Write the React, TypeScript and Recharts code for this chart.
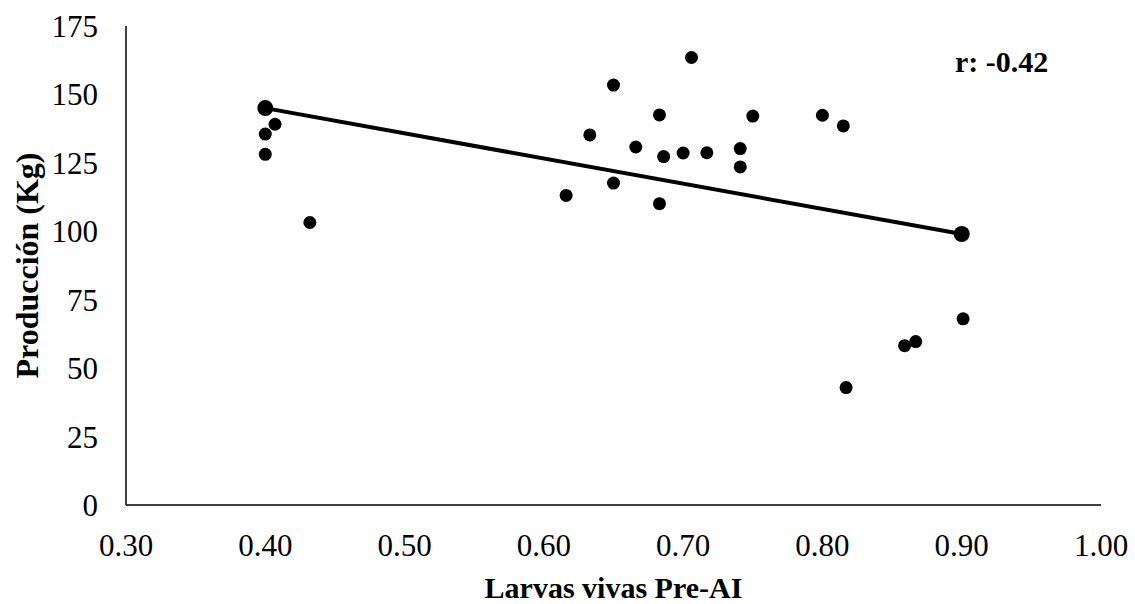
import { Label, Scatter, ScatterChart, XAxis, YAxis } from "recharts";

const larvas = [
  0.4, 0.407, 0.4, 0.4, 0.432, 0.616, 0.633, 0.65, 0.65, 0.666, 0.683, 0.683, 0.686,
  0.7, 0.706, 0.717, 0.741, 0.741, 0.75, 0.8, 0.815, 0.817, 0.859, 0.867, 0.901, 0.9,
];
const produccion = [
  145, 139.1, 135.5, 128.1, 103.2, 113.1, 135.2, 153.4, 117.6, 130.8, 142.5, 110.1, 127.3,
  128.6, 163.5, 128.7, 130.2, 123.5, 142.1, 142.4, 138.5, 42.9, 58.2, 59.7, 68.0, 99.2,
];
const trendX = [0.4, 0.9];
const trendY = [145, 99];
const xTicks = [0.3, 0.4, 0.5, 0.6, 0.7, 0.8, 0.9, 1.0];
const yTicks = [0, 25, 50, 75, 100, 125, 150, 175];

const points = larvas.map((x, i) => ({ x, y: produccion[i] }));
const trend = trendX.map((x, i) => ({ x, y: trendY[i] }));

const font = "'Liberation Serif', 'Times New Roman', serif";

const dot = (r: number) => (props: any) =>
  <circle cx={props.cx} cy={props.cy} r={r} fill="#000" />;

export default function App() {
  return (
    <div style={{ position: "absolute", left: 0, top: 0, width: 1135, height: 604, background: "#fff" }}>
      <ScatterChart
        width={1135}
        height={604}
        margin={{ top: 26, right: 34, bottom: 9, left: 10 }}
        style={{ fontFamily: font }}
      >
        <XAxis
          type="number"
          dataKey="x"
          domain={[0.3, 1.0]}
          ticks={xTicks}
          tickFormatter={(v: number) => v.toFixed(2)}
          height={90}
          tickLine={false}
          tickSize={0}
          tickMargin={29}
          axisLine={{ stroke: "#000", strokeWidth: 1.5 }}
          tick={{ fill: "#000", fontSize: 31, fontFamily: font }}
          allowDataOverflow
        >
          <Label
            value="Larvas vivas Pre-AI"
            position="insideBottom"
            offset={-3}
            style={{ fill: "#000", fontSize: 30, fontWeight: "bold", fontFamily: font }}
          />
        </XAxis>
        <YAxis
          type="number"
          dataKey="y"
          domain={[0, 175]}
          ticks={yTicks}
          width={116}
          tickLine={false}
          tickSize={0}
          tickMargin={28}
          axisLine={{ stroke: "#000", strokeWidth: 1.5 }}
          tick={{ fill: "#000", fontSize: 31, fontFamily: font }}
        >
          <Label
            value="Producción (Kg)"
            angle={-90}
            position="insideLeft"
            offset={17}
            style={{ fill: "#000", fontSize: 32, fontWeight: "bold", fontFamily: font, textAnchor: "middle" }}
          />
        </YAxis>
        <Scatter data={points} fill="#000" shape={dot(6.5)} isAnimationActive={false} />
        <Scatter
          data={trend}
          fill="#000"
          line={{ stroke: "#000", strokeWidth: 4 }}
          shape={dot(8)}
          isAnimationActive={false}
        />
      </ScatterChart>
      <div
        style={{
          position: "absolute",
          left: 955,
          top: 47,
          fontFamily: font,
          fontWeight: "bold",
          fontSize: 30,
          lineHeight: "30px",
          color: "#000",
          whiteSpace: "nowrap",
        }}
      >
        r: -0.42
      </div>
    </div>
  );
}
